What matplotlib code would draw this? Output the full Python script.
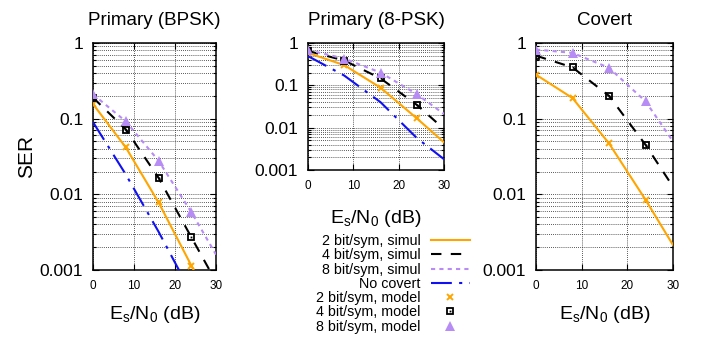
import numpy as np
import matplotlib
matplotlib.use("Agg")
from matplotlib import pyplot as plt
from matplotlib.ticker import LogLocator, FixedLocator, NullFormatter

plt.rcParams['font.family'] = ['Liberation Sans', 'DejaVu Sans']
plt.rcParams['mathtext.fontset'] = 'custom'
plt.rcParams['mathtext.rm'] = 'Liberation Sans'
plt.rcParams['mathtext.it'] = 'Liberation Sans:italic'

# Es/N0 (dB)
snr_sim = [0, 8, 16, 24, 30]
snr_model = [0, 8, 16, 24]

# Primary (BPSK)
bpsk_sim2 = [0.156, 0.0417, 0.0078, 0.00114, 0.00027]
bpsk_sim4 = [0.19, 0.072, 0.0165, 0.0027, 0.0007]
bpsk_sim8 = [0.21, 0.092, 0.0277, 0.0058, 0.0016]
bpsk_nocov = [0.090, 0.0183, 0.0032, 0.00049, 0.00012]
bpsk_mod2 = [0.156, 0.0417, 0.0078, 0.00114]
bpsk_mod4 = [0.187, 0.0713, 0.0163, 0.0027]
bpsk_mod8 = [0.211, 0.092, 0.0277, 0.0058]

# Primary (8-PSK)
psk_sim2 = [0.583, 0.30, 0.088, 0.0166, 0.0045]
psk_sim4 = [0.65, 0.385, 0.146, 0.0346, 0.0093]
psk_sim8 = [0.68, 0.43, 0.20, 0.062, 0.021]
psk_nocov = [0.49, 0.17, 0.040, 0.0057, 0.0018]
psk_mod2 = [0.583, 0.30, 0.088, 0.0166]
psk_mod4 = [0.65, 0.385, 0.146, 0.0346]
psk_mod8 = [0.68, 0.43, 0.20, 0.062]

# Covert
cov_sim2 = [0.381, 0.187, 0.047, 0.00845, 0.00214]
cov_sim4 = [0.68, 0.476, 0.20, 0.045, 0.0126]
cov_sim8 = [0.82, 0.74, 0.47, 0.169, 0.05]
cov_mod2 = [0.381, 0.187, 0.047, 0.00845]
cov_mod4 = [0.68, 0.476, 0.20, 0.045]
cov_mod8 = [0.82, 0.74, 0.47, 0.169]

labels = ["2 bit/sym, simul", "4 bit/sym, simul", "8 bit/sym, simul", "No covert",
          "2 bit/sym, model", "4 bit/sym, model", "8 bit/sym, model"]

ORANGE = '#ffa500'
PURPLE = '#b88cf5'
BLUE = '#1010f0'

W, H = 701, 337
fig = plt.figure(figsize=(W / 100, H / 100), dpi=100)


def box(x0, x1, ytop, ybot):
    return [x0 / W, 1 - ybot / H, (x1 - x0) / W, (ybot - ytop) / H]


def panel(rect, title, sim2, sim4, sim8, mod2, mod4, mod8, nocov=None, xlabel_pad=9):
    ax = fig.add_axes(rect)
    handles = {}
    handles[0], = ax.plot(snr_sim, sim2, color=ORANGE, lw=1.5, zorder=3)
    handles[1], = ax.plot(snr_sim, sim4, color='black', lw=1.5, ls=(0, (5, 4.5)), zorder=3)
    handles[2], = ax.plot(snr_sim, sim8, color=PURPLE, lw=1.5, ls=(0, (2, 2)), zorder=3)
    if nocov is not None:
        handles[3], = ax.plot(snr_sim, nocov, color=BLUE, lw=1.5,
                              ls=(0, (10, 3.5, 1.5, 3.5)), zorder=3)
    handles[4], = ax.plot(snr_model, mod2, ls='none', marker='x', ms=5, mew=1.4,
                          color=ORANGE, zorder=4)
    sq, = ax.plot(snr_model, mod4, ls='none', marker='s', ms=5, mew=1.3,
                  mfc='none', mec='black', zorder=4)
    dot, = ax.plot(snr_model, mod4, ls='none', marker='s', ms=1.3, mew=0,
                   color='black', zorder=4)
    handles[5] = (sq, dot)
    handles[6], = ax.plot(snr_model, mod8, ls='none', marker='^', ms=6.5, mew=0,
                          color=PURPLE, zorder=4)

    ax.set_yscale('log')
    ax.set_xlim(0, 30)
    ax.set_ylim(0.001, 1)
    ax.xaxis.set_major_locator(FixedLocator([0, 10, 20, 30]))
    ax.yaxis.set_major_locator(LogLocator(base=10, numticks=10))
    ax.yaxis.set_minor_locator(LogLocator(base=10, subs=np.arange(2, 10), numticks=10))
    ax.yaxis.set_minor_formatter(NullFormatter())
    ax.set_yticks([0.001, 0.01, 0.1, 1])
    ax.set_yticklabels(['0.001', '0.01', '0.1', '1'])
    ax.grid(True, which='major', color='#222222', lw=0.6, ls=(0, (1, 1.5)))
    ax.grid(True, which='minor', axis='y', color='#222222', lw=0.6, ls=(0, (1, 1.5)))
    ax.tick_params(which='both', direction='in', top=True, right=True, width=0.8)
    ax.tick_params(which='major', length=4)
    ax.tick_params(which='minor', length=2)
    ax.tick_params(axis='x', labelsize=8.5, pad=7)
    ax.tick_params(axis='y', labelsize=12.5, pad=7)
    for s in ax.spines.values():
        s.set_linewidth(1.1)
    ax.set_title(title, fontsize=13.5, pad=13)
    ax.set_xlabel(r'E$_\mathrm{s}$/N$_0$ (dB)', fontsize=14, labelpad=xlabel_pad)
    return ax, handles


ax1, hs = panel(box(93, 216, 43, 270), 'Primary (BPSK)', bpsk_sim2, bpsk_sim4, bpsk_sim8,
                bpsk_mod2, bpsk_mod4, bpsk_mod8, nocov=bpsk_nocov)
ax1.set_ylabel('SER', fontsize=15, labelpad=3)
ax2, _ = panel(box(308, 444, 43, 170), 'Primary (8-PSK)', psk_sim2, psk_sim4, psk_sim8,
               psk_mod2, psk_mod4, psk_mod8, nocov=psk_nocov, xlabel_pad=12)
ax3, _ = panel(box(536, 673, 43, 270), 'Covert', cov_sim2, cov_sim4, cov_sim8,
               cov_mod2, cov_mod4, cov_mod8)

fig.legend([hs[i] for i in range(7)], labels, loc='upper right',
           bbox_to_anchor=(470 / W, 1 - 234 / H), frameon=False, markerfirst=False,
           fontsize=10.3, labelspacing=0.02, handlelength=2.75, handletextpad=0.7,
           borderpad=0, borderaxespad=0, numpoints=1)

fig.savefig('out.png', dpi=100)
